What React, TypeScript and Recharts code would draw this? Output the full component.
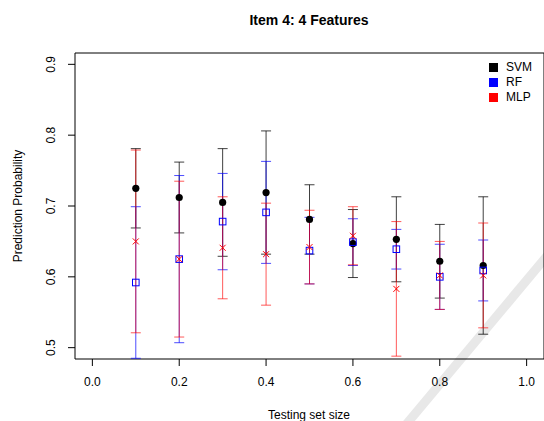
import {
  ErrorBar,
  ReferenceArea,
  Scatter,
  ScatterChart,
  XAxis,
  YAxis
} from 'recharts';

const sizes = [0.1, 0.2, 0.3, 0.4, 0.5, 0.6, 0.7, 0.8, 0.9];

const svmMean = [0.725, 0.712, 0.705, 0.719, 0.681, 0.647, 0.653, 0.622, 0.616];
const svmErr = [0.056, 0.05, 0.076, 0.087, 0.049, 0.048, 0.06, 0.052, 0.097];

const rfMean = [0.592, 0.625, 0.678, 0.691, 0.637, 0.649, 0.639, 0.6, 0.609];
const rfErr = [0.107, 0.118, 0.068, 0.072, 0.047, 0.033, 0.028, 0.046, 0.043];

const mlpMean = [0.65, 0.625, 0.641, 0.632, 0.642, 0.658, 0.583, 0.602, 0.602];
const mlpErr = [0.129, 0.11, 0.072, 0.072, 0.052, 0.041, 0.095, 0.048, 0.074];

const xTicks = [0, 0.2, 0.4, 0.6, 0.8, 1.0];
const yTicks = [0.5, 0.6, 0.7, 0.8, 0.9];

const build = (mean: number[], err: number[]) =>
  sizes.map((x, i) => ({ x, y: mean[i], err: err[i] }));

const svmData = build(svmMean, svmErr);
const rfData = build(rfMean, rfErr);
const mlpData = build(mlpMean, mlpErr);

const font = 'Liberation Sans, Arial, sans-serif';

const Dot = (props: any) => (
  <circle cx={props.cx} cy={props.cy} r={3.6} fill="#000" />
);

const Square = (props: any) => (
  <rect
    x={props.cx - 3.3}
    y={props.cy - 3.3}
    width={6.6}
    height={6.6}
    fill="none"
    stroke="#0000ff"
    strokeWidth={1}
  />
);

const Cross = (props: any) => {
  const d = 3;
  return (
    <path
      d={`M${props.cx - d},${props.cy - d}L${props.cx + d},${props.cy + d}M${props.cx - d},${props.cy + d}L${props.cx + d},${props.cy - d}`}
      stroke="#ff0000"
      strokeWidth={1}
    />
  );
};

const YTick = (props: any) => {
  const { x, y, payload } = props;
  const tx = x - 11;
  return (
    <text
      x={tx}
      y={y}
      transform={`rotate(-90 ${tx} ${y})`}
      textAnchor="middle"
      fontSize={12}
      fontFamily={font}
      fill="#000"
    >
      {payload.value.toFixed(1)}
    </text>
  );
};

const legendItems = [
  { name: 'SVM', color: '#000000' },
  { name: 'RF', color: '#0000ff' },
  { name: 'MLP', color: '#ff0000' }
];

const LegendBox = () => (
  <div
    style={{
      position: 'absolute',
      left: 489,
      top: 60,
      fontFamily: font,
      fontSize: 12,
      lineHeight: '15px'
    }}
  >
    {legendItems.map((it) => (
      <div key={it.name} style={{ display: 'flex', alignItems: 'center' }}>
        <span
          style={{
            width: 9,
            height: 9,
            background: it.color,
            display: 'inline-block',
            marginRight: 8
          }}
        />
        {it.name}
      </div>
    ))}
  </div>
);

const App = () => {
  return (
    <div style={{ position: 'absolute', left: 0, top: 0, width: 544, height: 421, overflow: 'hidden' }}>
      <svg
        width={544}
        height={421}
        style={{ position: 'absolute', left: 0, top: 0 }}
      >
        <line x1={552} y1={250} x2={404} y2={427} stroke="#e8e8e8" strokeWidth={9} />
      </svg>
      <div style={{ position: 'absolute', left: 0, top: 0 }}>
        <ScatterChart
          width={544}
          height={421}
          margin={{ top: 53, right: 0, bottom: 0, left: 0 }}
        >
          <text
            x={309}
            y={25}
            textAnchor="middle"
            fontSize={14}
            fontWeight="bold"
            fontFamily={font}
          >
            Item 4: 4 Features
          </text>
          <text
            x={309}
            y={419}
            textAnchor="middle"
            fontSize={12}
            fontFamily={font}
          >
            Testing set size
          </text>
          <text
            x={22}
            y={206}
            transform="rotate(-90 22 206)"
            textAnchor="middle"
            fontSize={12}
            fontFamily={font}
          >
            Prediction Probability
          </text>
          <XAxis
            type="number"
            dataKey="x"
            domain={[-0.04, 1.04]}
            ticks={xTicks}
            tickFormatter={(v: number) => v.toFixed(1)}
            allowDataOverflow
            axisLine={false}
            tickSize={7}
            tickLine={{ stroke: '#000' }}
            tick={{ fill: '#000', fontSize: 12, fontFamily: font, dy: 9 }}
            height={62}
          />
          <YAxis
            type="number"
            dataKey="y"
            domain={[0.484, 0.916]}
            ticks={yTicks}
            allowDataOverflow
            axisLine={false}
            tickSize={7}
            tickLine={{ stroke: '#000' }}
            tick={<YTick />}
            width={75}
          />
          <ReferenceArea
            x1={-0.04}
            x2={1.04}
            y1={0.484}
            y2={0.916}
            fill="none"
            stroke="#000"
            strokeWidth={1}
            fillOpacity={0}
          />
          <Scatter data={svmData} shape={<Dot />} isAnimationActive={false} fill="#000">
            <ErrorBar
              dataKey="err"
              direction="y"
              width={5}
              stroke="#000"
              strokeOpacity={0.75}
              strokeWidth={1}
              isAnimationActive={false}
            />
          </Scatter>
          <Scatter data={rfData} shape={<Square />} isAnimationActive={false} fill="#0000ff">
            <ErrorBar
              dataKey="err"
              direction="y"
              width={5}
              stroke="#0000ff"
              strokeOpacity={0.7}
              strokeWidth={1}
              isAnimationActive={false}
            />
          </Scatter>
          <Scatter data={mlpData} shape={<Cross />} isAnimationActive={false} fill="#ff0000">
            <ErrorBar
              dataKey="err"
              direction="y"
              width={5}
              stroke="#ff0000"
              strokeOpacity={0.65}
              strokeWidth={1}
              isAnimationActive={false}
            />
          </Scatter>
        </ScatterChart>
      </div>
      <LegendBox />
    </div>
  );
};

export default App;
